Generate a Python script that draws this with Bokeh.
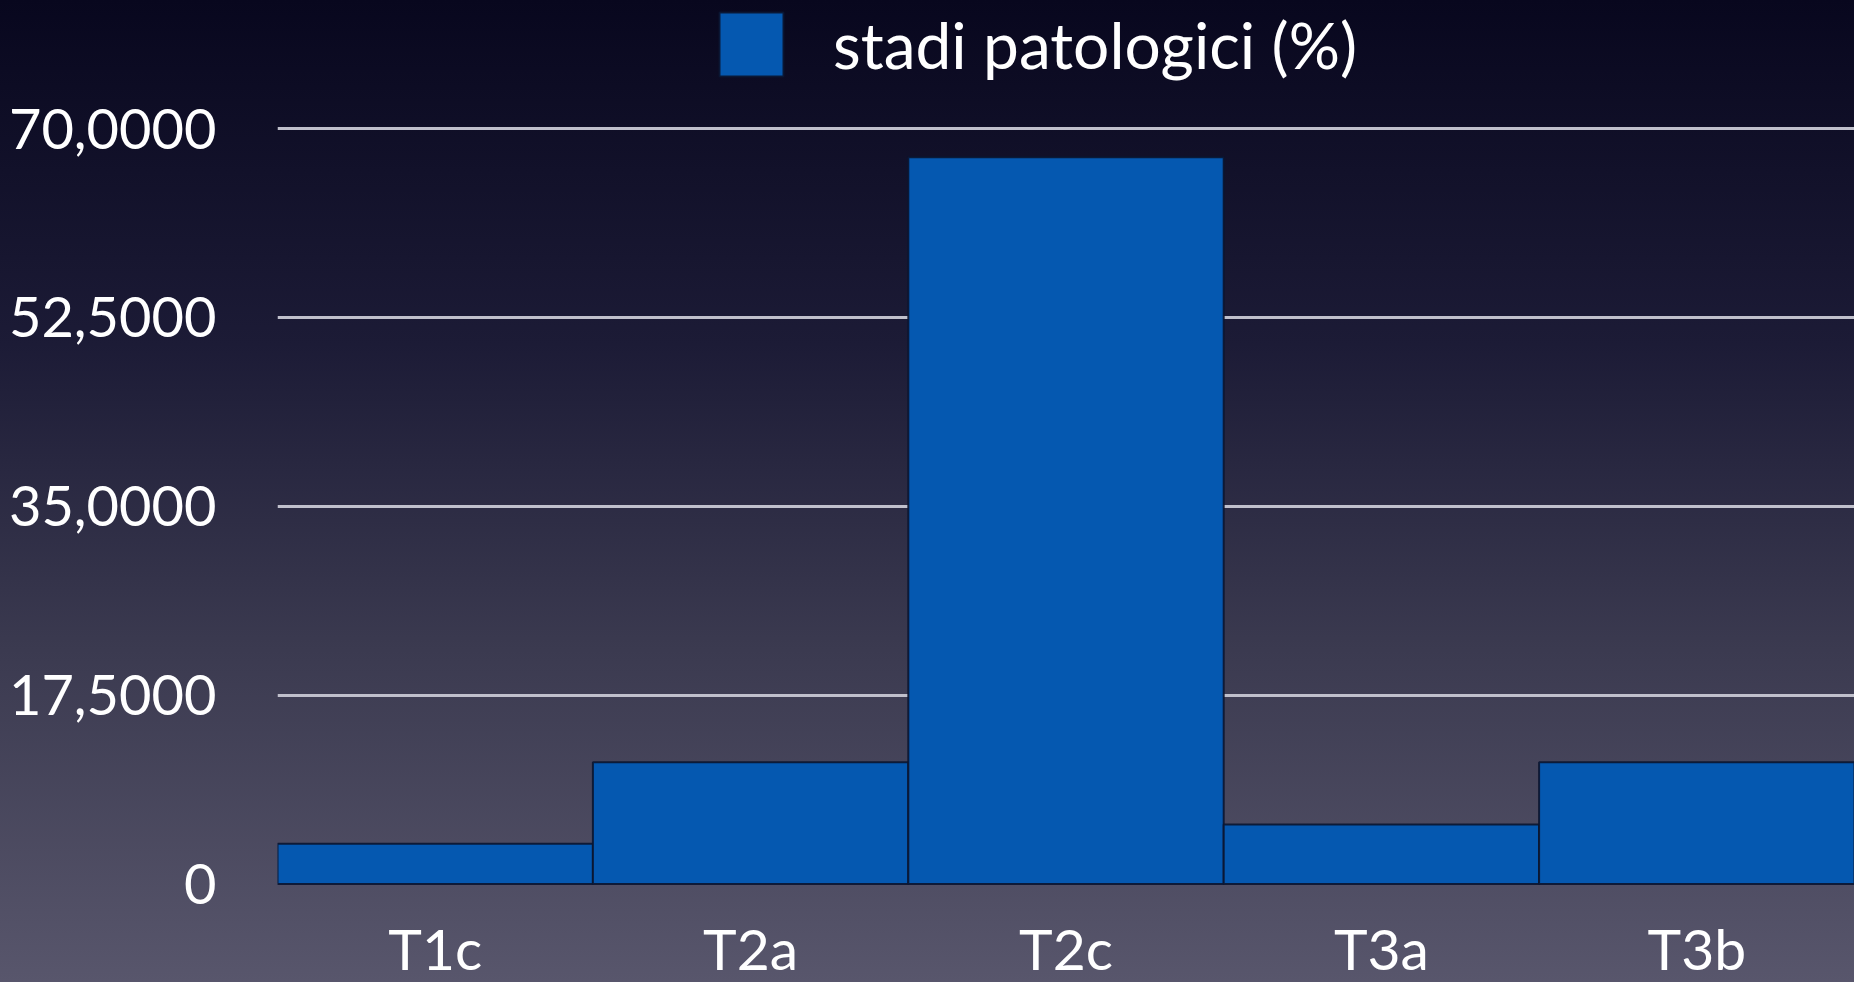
from bokeh.plotting import figure
from bokeh.models import Legend, LegendItem, FixedTicker, CustomJSTickFormatter, ColumnDataSource, Range1d
from bokeh.core.properties import value
from bokeh.embed import file_html
from bokeh.resources import INLINE

categories = ["T1c", "T2a", "T2c", "T3a", "T3b"]
values = [3.72, 11.29, 67.34, 5.51, 11.29]
y_ticks = [0, 17.5, 35, 52.5, 70]
y_tick_labels = {0: "0", 17.5: "17,5000", 35: "35,0000", 52.5: "52,5000", 70: "70,0000"}
series_name = "stadi patologici (%)"

FONT = "Lato"
W, H = 1854, 982
FRAME_LEFT = 277
ZERO_PX = 883.5      # pixel row (from top of figure) of value 0
TOP_PX = 128.0       # pixel row of value 70
ppu = (ZERO_PX - TOP_PX) / 70.0
y_start = -(H - ZERO_PX) / ppu
y_end = 70 + TOP_PX / ppu
label_y = -(947 - ZERO_PX) / ppu   # vertical middle of category labels

p = figure(x_range=categories, y_range=Range1d(y_start, y_end), width=W, height=H,
           output_backend="svg", toolbar_location=None,
           min_border_left=FRAME_LEFT, min_border_top=0, min_border_bottom=0, min_border_right=0)

p.styles = {"background": "linear-gradient(to bottom, #08071e 0%, #1c1b36 35%, #3a394f 65%, #58566c 100%)"}
p.border_fill_alpha = 0
p.background_fill_alpha = 0
p.outline_line_color = None

src = ColumnDataSource(dict(cat=categories, val=values))
r = p.vbar(x="cat", top="val", bottom=0, width=1.0, source=src,
           fill_color="#0558b0", line_color="#0b1530", line_width=2, line_alpha=0.9)

p.xgrid.grid_line_color = None
p.ygrid.ticker = FixedTicker(ticks=[17.5, 35, 52.5, 70])
p.ygrid.grid_line_color = "#c0c0cc"
p.ygrid.grid_line_width = 3

p.xaxis.visible = False

p.yaxis.ticker = FixedTicker(ticks=y_ticks)
p.yaxis.formatter = CustomJSTickFormatter(args=dict(m={str(k): v for k, v in y_tick_labels.items()}),
                                          code="return m[String(tick)] || String(tick);")
ax = p.yaxis[0]
ax.axis_line_color = None
ax.major_tick_line_color = None
ax.minor_tick_line_color = None
ax.major_label_text_color = "#ffffff"
ax.major_label_text_font = FONT
ax.major_label_text_font_size = "56px"
ax.major_label_standoff = 55

# category labels under the bars
p.text(x=categories, y=[label_y] * len(categories), text=categories,
       text_font=value(FONT), text_font_size="57px", text_color="#ffffff",
       text_align="center", text_baseline="middle")

legend = Legend(items=[LegendItem(label=series_name, renderers=[r])],
                location=(711 - FRAME_LEFT, H - 84), orientation="horizontal",
                background_fill_alpha=0, border_line_color=None,
                padding=0, margin=0, spacing=0,
                glyph_width=80, glyph_height=80, label_standoff=42,
                label_text_color="#ffffff", label_text_font=FONT,
                label_text_font_size="64px")
p.add_layout(legend, "center")

open("out.html", "w").write(file_html(p, INLINE))
